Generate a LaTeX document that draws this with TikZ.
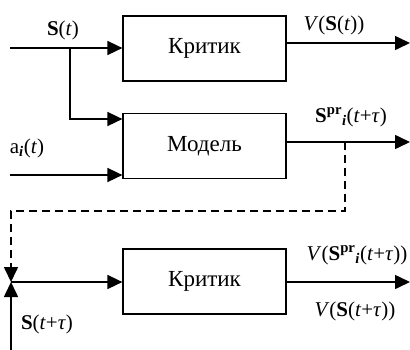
\documentclass[tikz,border=0pt]{standalone}
\usepackage{fontspec}
\setmainfont{Liberation Serif}
\usetikzlibrary{arrows.meta}
\newcommand{\Sb}{\textbf{S}}
\newcommand{\Ti}{\textit{t}}
\newcommand{\Tau}{\textit{τ}}
\newcommand{\Spr}{\textbf{S}\textsuperscript{\textbf{pr}}\textsubscript{\textbf{\textit{i}}}}
\begin{document}
\begin{tikzpicture}[x=1pt,y=-1pt,
  font=\fontsize{21}{25}\selectfont,
  line width=1.6pt,
  >={Triangle[length=15pt,width=14pt]},
  blk/.style={draw, line width=1.2pt, minimum width=163pt, minimum height=65pt, inner sep=0pt, font=\fontsize{23}{27}\selectfont},
  lbl/.style={inner sep=0pt},
  dsh/.style={dash pattern=on 8pt off 5pt}]
\useasboundingbox (0,0) rectangle (410,349);
\node[blk] (k1) at (204.5,48.5) {Критик};
\node[blk] (m) at (204.5,146) {Модель};
\node[blk] (k2) at (204.5,281.5) {Критик};
\coordinate (in1) at (10,48);
\coordinate (br) at (70,48);
\coordinate (brd) at (70,119);
\coordinate (in2) at (10,175);
\coordinate (o1s) at (286,43);
\coordinate (o1) at (410,43);
\coordinate (o2s) at (286,142);
\coordinate (o2) at (410,142);
\coordinate (dt) at (345,142);
\coordinate (dc) at (345,211);
\coordinate (dl) at (11,211);
\coordinate (j) at (11,282);
\coordinate (sb) at (11,352);
\coordinate (o3) at (410,282);
\draw[->] (in1) -- (in1 -| k1.west);
\draw[->] (br) -- (brd) -- (brd -| m.west);
\draw[->] (in2) -- (in2 -| m.west);
\draw[->] (o1s) -- (o1);
\draw[->] (o2s) -- (o2);
\draw[->,dsh] (dt) -- (dc) -- (dl) -- (j);
\draw[->] (sb) -- (j);
\draw[->] (j) -- (j -| k2.west);
\draw[->] (j -| k2.east) -- (o3);
\node[lbl] (l1) at (63,30) {\Sb(\Ti)};
\node[lbl] (l2) at (334,25) {\textit{V}(\Sb(\Ti))};
\node[lbl] (l3) at (351,117) {\Spr(\Ti+\Tau)};
\node[lbl] (l4) at (27,148) {a\textsubscript{\textbf{\textit{i}}}(\Ti)};
\node[lbl] (l5) at (357,255) {\textit{V}(\Spr(\Ti+\Tau))};
\node[lbl] (l6) at (355,311) {\textit{V}(\Sb(\Ti+\Tau))};
\node[lbl] (l7) at (47,324) {\Sb(\Ti+\Tau)};
\end{tikzpicture}
\end{document}
